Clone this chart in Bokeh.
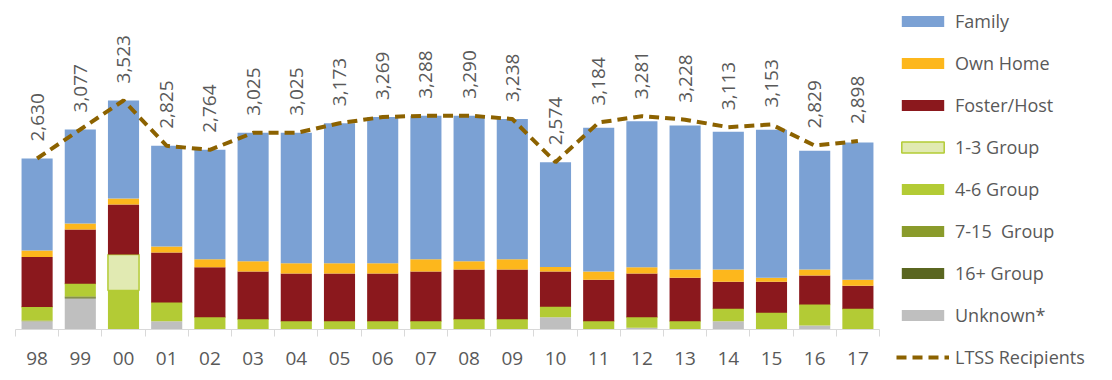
import math
from bokeh.plotting import figure
from bokeh.models import ColumnDataSource, FixedTicker, Range1d, Legend, LegendItem
from bokeh.core.properties import value
from bokeh.embed import file_html
from bokeh.resources import INLINE

years = ["98", "99", "00", "01", "02", "03", "04", "05", "06", "07",
         "08", "09", "10", "11", "12", "13", "14", "15", "16", "17"]
unknown = [128, 477, 0, 128, 0, 0, 0, 0, 0, 0, 0, 0, 190, 0, 26, 0, 128, 0, 62, 0]
group16 = [0, 20, 0, 0, 0, 0, 0, 0, 0, 0, 0, 0, 0, 0, 0, 0, 0, 0, 0, 0]
group7_15 = [10, 15, 0, 0, 0, 0, 0, 0, 0, 0, 0, 0, 0, 0, 0, 0, 0, 0, 0, 0]
group4_6 = [210, 190, 600, 287, 190, 159, 128, 128, 128, 128, 159, 159, 159, 128, 164, 128, 190, 256, 323, 318]
group1_3 = [0, 0, 554, 0, 0, 0, 0, 0, 0, 0, 0, 0, 0, 0, 0, 0, 0, 0, 0, 0]
foster = [769, 836, 769, 769, 769, 733, 733, 733, 733, 764, 764, 764, 544, 636, 672, 667, 415, 477, 446, 354]
own_home = [97, 92, 92, 92, 123, 159, 159, 159, 159, 190, 128, 159, 67, 128, 97, 128, 190, 62, 92, 92]
family = [1416, 1447, 1508, 1549, 1682, 1974, 2005, 2153, 2249, 2206,
          2239, 2156, 1614, 2210, 2246, 2215, 2118, 2277, 1826, 2113]
ltss = [2630, 3077, 3523, 2825, 2764, 3025, 3025, 3173, 3269, 3288,
        3290, 3238, 2574, 3184, 3281, 3228, 3113, 3153, 2829, 2898]

FONT = "Open Sans"
TXT = "#595959"

n = len(years)
xs = list(range(n))
src = ColumnDataSource(dict(
    x=xs, unknown=unknown, g16=group16, g7=group7_15, g46=group4_6, g13=group1_3,
    foster=foster, own=own_home, family=family, ltss=ltss,
    label=[f"{v:,}" for v in ltss],
))

p = figure(frame_width=864, frame_height=321,
           x_range=Range1d(-0.5, n - 0.5), y_range=Range1d(0, 4938),
           output_backend="svg", toolbar_location=None, y_axis_location=None,
           min_border_left=15, min_border_top=8, min_border_bottom=42, min_border_right=0)
p.outline_line_color = None
p.xgrid.visible = False
p.ygrid.visible = False
p.background_fill_color = "white"

stackers = ["unknown", "g16", "g7", "g46", "g13", "foster", "own", "family"]
fills = ["#BFBFBF", "#5A6620", "#8A9B2B", "#B3CB35", "#E1EAB2", "#8B181D", "#FDB71C", "#7BA1D4"]
lines = [None, None, None, None, "#B3CB35", None, None, None]
widths = [0, 0, 0, 0, 1.5, 0, 0, 0]
rs = p.vbar_stack(stackers, x="x", width=0.72, source=src,
                  fill_color=fills, line_color=lines, line_width=widths)

ln = p.line("x", "ltss", source=src, line_color="#8C6200", line_width=4, line_dash="10 6")

p.text(x="x", y="ltss", text="label", source=src, angle=math.pi / 2,
       text_align="left", text_baseline="middle", y_offset=-17,
       text_font=value(FONT), text_font_size="19px", text_color=TXT)

ax = p.xaxis[0]
ax.ticker = FixedTicker(ticks=xs, minor_ticks=[i - 0.5 for i in range(n + 1)])
ax.major_label_overrides = {i: years[i] for i in xs}
ax.axis_line_color = "#D9D9D9"
ax.major_tick_line_color = None
ax.major_tick_out = 0
ax.major_tick_in = 0
ax.minor_tick_line_color = "#D9D9D9"
ax.minor_tick_out = 7
ax.minor_tick_in = 0
ax.major_label_standoff = 15
ax.major_label_text_font = FONT
ax.major_label_text_font_size = "19px"
ax.major_label_text_color = TXT

names = ["Family", "Own Home", "Foster/Host", "1-3 Group", "4-6 Group",
         "7-15  Group", "16+ Group", "Unknown*"]
order = [7, 6, 5, 4, 3, 2, 1, 0]
items = [LegendItem(label=names[k], renderers=[rs[i]]) for k, i in enumerate(order)]
items.append(LegendItem(label="LTSS Recipients", renderers=[ln]))
legend = Legend(items=items, location=(17, -40), glyph_width=53, glyph_height=14,
                label_height=24, spacing=18, label_standoff=6, padding=0, margin=0,
                border_line_color=None, background_fill_alpha=0,
                label_text_font=FONT, label_text_font_size="18px", label_text_color=TXT)
p.add_layout(legend, "right")

open("out.html", "w").write(file_html(p, INLINE))
